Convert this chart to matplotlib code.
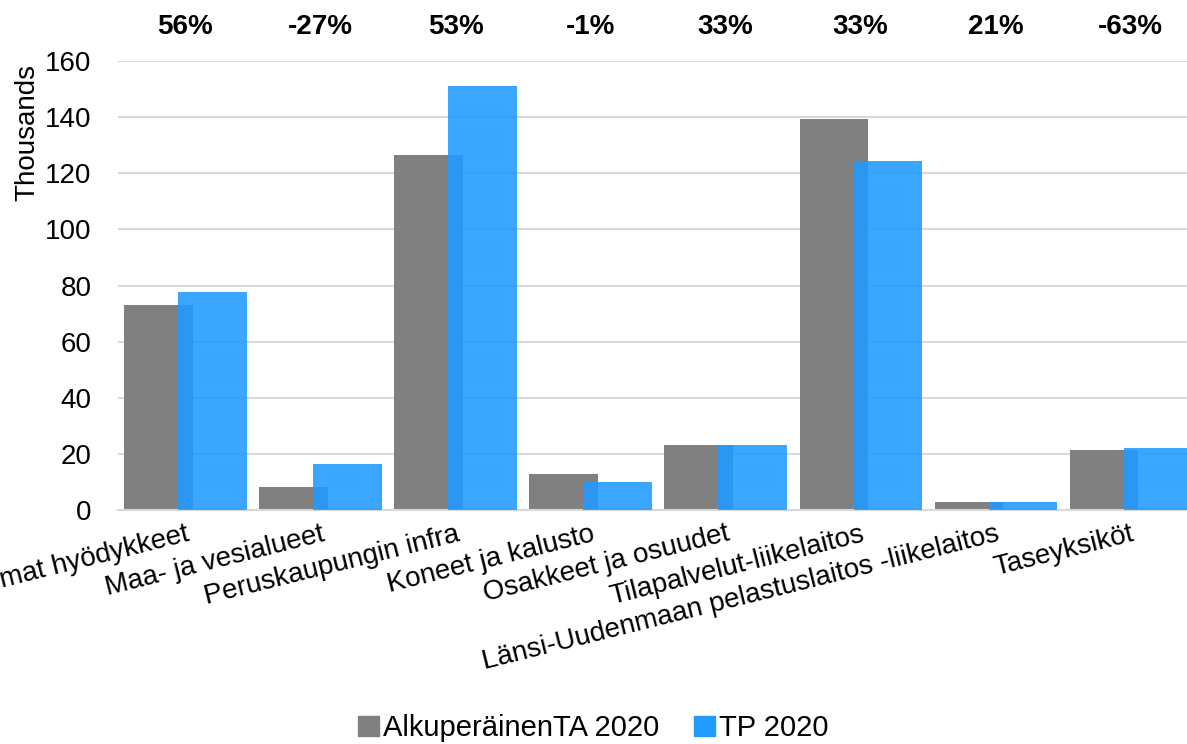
import numpy as np
import matplotlib.pyplot as plt
from matplotlib.patches import Patch

plt.rcParams['font.family'] = ['Liberation Sans', 'DejaVu Sans']

# Investoinnit kohteittain, tuhansina euroina
kohteet = ["Aineettomat hyödykkeet", "Maa- ja vesialueet", "Peruskaupungin infra",
           "Koneet ja kalusto", "Osakkeet ja osuudet", "Tilapalvelut-liikelaitos",
           "Länsi-Uudenmaan pelastuslaitos -liikelaitos", "Taseyksiköt"]
alkuperainen_ta = [73.1, 8.3, 126.5, 12.8, 23.2, 139.3, 2.9, 21.3]
tp_2020 = [77.6, 16.4, 151.1, 9.9, 23.2, 124.4, 2.9, 22.1]
muutos = ["56%", "-27%", "53%", "-1%", "33%", "33%", "21%", "-63%"]

harmaa = "#808080"
sininen = "#229BFF"

fig = plt.figure(figsize=(11.87, 7.44), dpi=100)
ax = fig.add_axes([0.0994, 0.3145, 0.91, 0.6035])

x = np.arange(len(kohteet))
leveys = 0.505
ax.bar(x - 0.2, alkuperainen_ta, leveys, color=harmaa, zorder=2)
ax.bar(x + 0.2, tp_2020, leveys, color=sininen, alpha=0.89, zorder=3)

ax.set_xlim(-0.5, len(kohteet) - 0.5)
ax.set_ylim(0, 160)
ax.set_yticks(range(0, 161, 20))
ax.yaxis.grid(True, color="#D9D9D9", linewidth=1.5, zorder=0)
ax.set_axisbelow(True)
for s in ["top", "right", "left"]:
    ax.spines[s].set_visible(False)
ax.spines["bottom"].set_color("#D9D9D9")
ax.spines["bottom"].set_linewidth(1.5)
ax.tick_params(axis="y", length=0, labelsize=20, pad=19)
ax.tick_params(axis="x", length=0, labelsize=20, pad=8)

ax.set_xticks(x)
ax.set_xticklabels(kohteet, rotation=14, ha="right", va="top", rotation_mode="anchor")

ax.set_ylabel("Thousands", fontsize=20)
ax.yaxis.set_label_coords(-0.072, 0.84)

# muutosprosentit kuvaajan yläpuolelle
for xi, teksti in zip(x, muutos):
    ax.text(xi, 1.075, teksti, transform=ax.get_xaxis_transform(), ha="center",
            va="center", fontsize=20, fontweight="bold")

kahvat = [Patch(color=harmaa), Patch(color=sininen)]
fig.legend(kahvat, ["AlkuperäinenTA 2020", "TP 2020"], loc="center",
           bbox_to_anchor=(0.5, 0.021), ncol=2, frameon=False, fontsize=21,
           handlelength=0.7, handleheight=0.7, handletextpad=0.15, columnspacing=1.2)

fig.savefig("out.png", dpi=100)
